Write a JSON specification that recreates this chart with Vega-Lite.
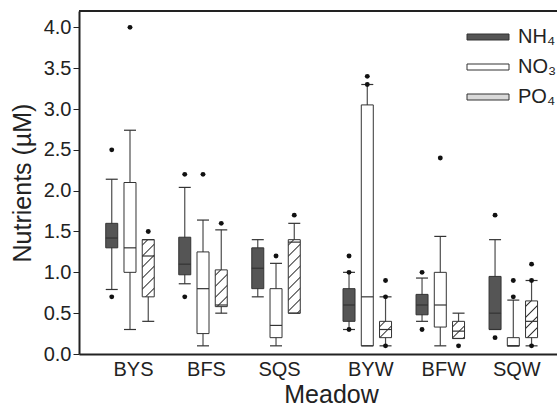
{
  "$schema": "https://vega.github.io/schema/vega-lite/v6.json",
  "width": 478,
  "height": 343,
  "autosize": {"type": "none"},
  "padding": {"left": 79, "top": 11, "right": 0, "bottom": 52},
  "background": "white",
  "config": {
    "view": {"stroke": null},
    "font": "Liberation Sans",
    "axis": {
      "grid": false,
      "domainColor": "#222222",
      "domainWidth": 2,
      "tickColor": "#222222",
      "labelColor": "#222222",
      "titleColor": "#222222",
      "labelFont": "Liberation Sans",
      "titleFont": "Liberation Sans",
      "titleFontWeight": "normal",
      "labelFontSize": 20,
      "titleFontSize": 25
    },
    "axisX": {"ticks": false, "tickSize": 0, "labelPadding": 5, "titlePadding": 3, "labelOffset": 3, "titleX": 252},
    "axisY": {"tickSize": 6, "labelPadding": 2, "titlePadding": 8}
  },
  "datasets": {
    "boxes": [
      {"Meadow": "BYS", "Nutrient": "NH4", "lower": 0.79, "q1": 1.3, "median": 1.42, "q3": 1.6, "upper": 2.14},
      {"Meadow": "BYS", "Nutrient": "NO3", "lower": 0.3, "q1": 1.0, "median": 1.3, "q3": 2.1, "upper": 2.74},
      {"Meadow": "BYS", "Nutrient": "PO4", "lower": 0.4, "q1": 0.7, "median": 1.2, "q3": 1.4, "upper": 1.4},
      {"Meadow": "BFS", "Nutrient": "NH4", "lower": 0.86, "q1": 0.97, "median": 1.1, "q3": 1.43, "upper": 2.04},
      {"Meadow": "BFS", "Nutrient": "NO3", "lower": 0.1, "q1": 0.25, "median": 0.8, "q3": 1.25, "upper": 1.64},
      {"Meadow": "BFS", "Nutrient": "PO4", "lower": 0.5, "q1": 0.58, "median": 0.6, "q3": 1.03, "upper": 1.52},
      {"Meadow": "SQS", "Nutrient": "NH4", "lower": 0.7, "q1": 0.8, "median": 1.05, "q3": 1.3, "upper": 1.4},
      {"Meadow": "SQS", "Nutrient": "NO3", "lower": 0.1, "q1": 0.2, "median": 0.35, "q3": 0.8, "upper": 1.11},
      {"Meadow": "SQS", "Nutrient": "PO4", "lower": 0.5, "q1": 0.5, "median": 1.37, "q3": 1.4, "upper": 1.6},
      {"Meadow": "BYW", "Nutrient": "NH4", "lower": 0.3, "q1": 0.4, "median": 0.6, "q3": 0.8, "upper": 1.0},
      {"Meadow": "BYW", "Nutrient": "NO3", "lower": 0.1, "q1": 0.1, "median": 0.7, "q3": 3.05, "upper": 3.3},
      {"Meadow": "BYW", "Nutrient": "PO4", "lower": 0.1, "q1": 0.2, "median": 0.3, "q3": 0.4, "upper": 0.7},
      {"Meadow": "BFW", "Nutrient": "NH4", "lower": 0.4, "q1": 0.48, "median": 0.6, "q3": 0.73, "upper": 0.93},
      {"Meadow": "BFW", "Nutrient": "NO3", "lower": 0.1, "q1": 0.33, "median": 0.6, "q3": 1.0, "upper": 1.44},
      {"Meadow": "BFW", "Nutrient": "PO4", "lower": 0.19, "q1": 0.19, "median": 0.28, "q3": 0.4, "upper": 0.5},
      {"Meadow": "SQW", "Nutrient": "NH4", "lower": 0.3, "q1": 0.3, "median": 0.5, "q3": 0.95, "upper": 1.4},
      {"Meadow": "SQW", "Nutrient": "NO3", "lower": 0.1, "q1": 0.1, "median": 0.1, "q3": 0.2, "upper": 0.66},
      {"Meadow": "SQW", "Nutrient": "PO4", "lower": 0.1, "q1": 0.2, "median": 0.4, "q3": 0.65, "upper": 0.9}
    ],
    "outliers": [
      {"Meadow": "BYS", "Nutrient": "NH4", "value": 2.5},
      {"Meadow": "BYS", "Nutrient": "NH4", "value": 0.7},
      {"Meadow": "BYS", "Nutrient": "NO3", "value": 4.0},
      {"Meadow": "BYS", "Nutrient": "PO4", "value": 1.5},
      {"Meadow": "BFS", "Nutrient": "NH4", "value": 2.2},
      {"Meadow": "BFS", "Nutrient": "NH4", "value": 0.7},
      {"Meadow": "BFS", "Nutrient": "NO3", "value": 2.2},
      {"Meadow": "BFS", "Nutrient": "PO4", "value": 1.6},
      {"Meadow": "SQS", "Nutrient": "NO3", "value": 1.2},
      {"Meadow": "SQS", "Nutrient": "PO4", "value": 1.7},
      {"Meadow": "BYW", "Nutrient": "NH4", "value": 1.2},
      {"Meadow": "BYW", "Nutrient": "NH4", "value": 1.0},
      {"Meadow": "BYW", "Nutrient": "NH4", "value": 0.3},
      {"Meadow": "BYW", "Nutrient": "NO3", "value": 3.4},
      {"Meadow": "BYW", "Nutrient": "NO3", "value": 3.3},
      {"Meadow": "BYW", "Nutrient": "PO4", "value": 0.9},
      {"Meadow": "BYW", "Nutrient": "PO4", "value": 0.7},
      {"Meadow": "BYW", "Nutrient": "PO4", "value": 0.1},
      {"Meadow": "BFW", "Nutrient": "NH4", "value": 1.0},
      {"Meadow": "BFW", "Nutrient": "NH4", "value": 0.3},
      {"Meadow": "BFW", "Nutrient": "NO3", "value": 2.4},
      {"Meadow": "BFW", "Nutrient": "PO4", "value": 0.1},
      {"Meadow": "SQW", "Nutrient": "NH4", "value": 1.7},
      {"Meadow": "SQW", "Nutrient": "NH4", "value": 0.2},
      {"Meadow": "SQW", "Nutrient": "NO3", "value": 0.9},
      {"Meadow": "SQW", "Nutrient": "NO3", "value": 0.7},
      {"Meadow": "SQW", "Nutrient": "PO4", "value": 1.1},
      {"Meadow": "SQW", "Nutrient": "PO4", "value": 0.9},
      {"Meadow": "SQW", "Nutrient": "PO4", "value": 0.1}
    ]
  },
  "data": {"name": "boxes"},
  "transform": [
    {"calculate": "indexof(['BYS','BFS','SQS','BYW','BFW','SQW'], datum.Meadow) + (indexof(['BYW','BFW','SQW'], datum.Meadow) >= 0 ? 0.25 : 0) + 0.25 * (indexof(['NH4','NO3','PO4'], datum.Nutrient) - 1)", "as": "pos"}
  ],
  "layer": [
    {
      "mark": {"type": "rule", "color": "#4d4d4d", "strokeWidth": 1.2},
      "encoding": {
        "x": {"field": "pos", "type": "quantitative", "title": "Meadow", "scale": {"domain": [-0.63, 5.78], "nice": false, "zero": false}, "axis": {"values": [0, 1, 2, 3.25, 4.25, 5.25], "labelExpr": "['BYS','BFS','SQS','BYW','BFW','SQW'][indexof([0,1,2,3.25,4.25,5.25], datum.value)]"}},
        "y": {"field": "lower", "type": "quantitative", "title": "Nutrients (µM)", "scale": {"domain": [0, 4.2], "nice": false}, "axis": {"values": [0, 0.5, 1, 1.5, 2, 2.5, 3, 3.5, 4], "format": ".1f"}},
        "y2": {"field": "upper"}
      }
    },
    {
      "transform": [{"filter": "datum.Nutrient !== 'PO4'"}],
      "mark": {"type": "bar", "width": 12, "stroke": "#333333", "strokeWidth": 1},
      "encoding": {
        "x": {"field": "pos", "type": "quantitative", "title": "Meadow"},
        "y": {"field": "q1", "type": "quantitative", "title": "Nutrients (µM)"},
        "y2": {"field": "q3"},
        "fill": {
          "field": "Nutrient", "type": "nominal",
          "scale": {"domain": ["NH4", "NO3", "PO4"], "range": ["#555555", "#ffffff", "#d9d9d9"]},
          "legend": {
            "title": null, "orient": "none", "legendX": 399, "legendY": 16, "padding": 0,
            "symbolType": "M-4,-0.5714H4V0.5714H-4Z", "symbolSize": 110.25,
            "symbolStrokeColor": "#333333", "symbolStrokeWidth": 1, "symbolOpacity": 1,
            "labelFontSize": 20, "labelFont": "Liberation Sans", "labelColor": "#222222",
            "labelOffset": 20, "rowPadding": 10,
            "labelExpr": "{'NH4': 'NH₄', 'NO3': 'NO₃', 'PO4': 'PO₄'}[datum.label]",
            "encode": {"symbols": {"update": {
              "stroke": {"value": "#333333"},
              "strokeWidth": {"value": 1}
            }}}
          }
        }
      }
    },
    {
      "transform": [{"filter": "datum.Nutrient === 'PO4' && datum.Meadow === 'BYS'"}],
      "mark": {"type": "bar", "width": 12, "stroke": "#333333", "strokeWidth": 1,
        "fill": {"gradient": "linear", "x1": 0, "y1": 0, "x2": 0.2432, "y2": 1.1589, "stops": [
          {"offset": 0.0593, "color": "#ffffff"}, {"offset": 0.0795, "color": "#333333"}, {"offset": 0.0997, "color": "#ffffff"},
          {"offset": 0.2183, "color": "#ffffff"}, {"offset": 0.2385, "color": "#333333"}, {"offset": 0.2587, "color": "#ffffff"},
          {"offset": 0.3774, "color": "#ffffff"}, {"offset": 0.3976, "color": "#333333"}, {"offset": 0.4178, "color": "#ffffff"},
          {"offset": 0.5364, "color": "#ffffff"}, {"offset": 0.5566, "color": "#333333"}, {"offset": 0.5768, "color": "#ffffff"},
          {"offset": 0.6954, "color": "#ffffff"}, {"offset": 0.7156, "color": "#333333"}, {"offset": 0.7358, "color": "#ffffff"},
          {"offset": 0.8545, "color": "#ffffff"}, {"offset": 0.8747, "color": "#333333"}, {"offset": 0.8949, "color": "#ffffff"}
        ]}},
      "encoding": {
        "x": {"field": "pos", "type": "quantitative", "title": "Meadow"},
        "y": {"field": "q1", "type": "quantitative", "title": "Nutrients (µM)"},
        "y2": {"field": "q3"}
      }
    },
    {
      "transform": [{"filter": "datum.Nutrient === 'PO4' && (datum.Meadow === 'BFS' || datum.Meadow === 'SQW')"}],
      "mark": {"type": "bar", "width": 12, "stroke": "#333333", "strokeWidth": 1,
        "fill": {"gradient": "linear", "x1": 0, "y1": 0, "x2": 0.3914, "y2": 1.1987, "stops": [
          {"offset": 0.0841, "color": "#ffffff"}, {"offset": 0.1128, "color": "#333333"}, {"offset": 0.1415, "color": "#ffffff"},
          {"offset": 0.3098, "color": "#ffffff"}, {"offset": 0.3385, "color": "#333333"}, {"offset": 0.3672, "color": "#ffffff"},
          {"offset": 0.5354, "color": "#ffffff"}, {"offset": 0.5641, "color": "#333333"}, {"offset": 0.5928, "color": "#ffffff"},
          {"offset": 0.7610, "color": "#ffffff"}, {"offset": 0.7897, "color": "#333333"}, {"offset": 0.8184, "color": "#ffffff"}
        ]}},
      "encoding": {
        "x": {"field": "pos", "type": "quantitative", "title": "Meadow"},
        "y": {"field": "q1", "type": "quantitative", "title": "Nutrients (µM)"},
        "y2": {"field": "q3"}
      }
    },
    {
      "transform": [{"filter": "datum.Nutrient === 'PO4' && datum.Meadow === 'SQS'"}],
      "mark": {"type": "bar", "width": 12, "stroke": "#333333", "strokeWidth": 1,
        "fill": {"gradient": "linear", "x1": 0, "y1": 0, "x2": 0.1850, "y2": 1.1331, "stops": [
          {"offset": 0.0479, "color": "#ffffff"}, {"offset": 0.0643, "color": "#333333"}, {"offset": 0.0807, "color": "#ffffff"},
          {"offset": 0.1766, "color": "#ffffff"}, {"offset": 0.1930, "color": "#333333"}, {"offset": 0.2094, "color": "#ffffff"},
          {"offset": 0.3052, "color": "#ffffff"}, {"offset": 0.3216, "color": "#333333"}, {"offset": 0.3380, "color": "#ffffff"},
          {"offset": 0.4339, "color": "#ffffff"}, {"offset": 0.4503, "color": "#333333"}, {"offset": 0.4667, "color": "#ffffff"},
          {"offset": 0.5625, "color": "#ffffff"}, {"offset": 0.5789, "color": "#333333"}, {"offset": 0.5953, "color": "#ffffff"},
          {"offset": 0.6912, "color": "#ffffff"}, {"offset": 0.7076, "color": "#333333"}, {"offset": 0.7240, "color": "#ffffff"},
          {"offset": 0.8199, "color": "#ffffff"}, {"offset": 0.8363, "color": "#333333"}, {"offset": 0.8527, "color": "#ffffff"},
          {"offset": 0.9485, "color": "#ffffff"}, {"offset": 0.9649, "color": "#333333"}, {"offset": 0.9813, "color": "#ffffff"}
        ]}},
      "encoding": {
        "x": {"field": "pos", "type": "quantitative", "title": "Meadow"},
        "y": {"field": "q1", "type": "quantitative", "title": "Nutrients (µM)"},
        "y2": {"field": "q3"}
      }
    },
    {
      "transform": [{"filter": "datum.Nutrient === 'PO4' && datum.Meadow === 'BYW'"}],
      "mark": {"type": "bar", "width": 12, "stroke": "#333333", "strokeWidth": 1,
        "fill": {"gradient": "linear", "x1": 0, "y1": 0, "x2": 0.8278, "y2": 1.1264, "stops": [
          {"offset": 0.1447, "color": "#ffffff"}, {"offset": 0.1941, "color": "#333333"}, {"offset": 0.2435, "color": "#ffffff"},
          {"offset": 0.5330, "color": "#ffffff"}, {"offset": 0.5824, "color": "#333333"}, {"offset": 0.6318, "color": "#ffffff"},
          {"offset": 0.9213, "color": "#ffffff"}, {"offset": 0.9707, "color": "#333333"}, {"offset": 1.0, "color": "#ffffff"}
        ]}},
      "encoding": {
        "x": {"field": "pos", "type": "quantitative", "title": "Meadow"},
        "y": {"field": "q1", "type": "quantitative", "title": "Nutrients (µM)"},
        "y2": {"field": "q3"}
      }
    },
    {
      "transform": [{"filter": "datum.Nutrient === 'PO4' && datum.Meadow === 'BFW'"}],
      "mark": {"type": "bar", "width": 12, "stroke": "#333333", "strokeWidth": 1,
        "fill": {"gradient": "linear", "x1": 0, "y1": 0, "x2": 0.7985, "y2": 1.1411, "stops": [
          {"offset": 0.1407, "color": "#ffffff"}, {"offset": 0.1887, "color": "#333333"}, {"offset": 0.2367, "color": "#ffffff"},
          {"offset": 0.5180, "color": "#ffffff"}, {"offset": 0.5660, "color": "#333333"}, {"offset": 0.6140, "color": "#ffffff"},
          {"offset": 0.8954, "color": "#ffffff"}, {"offset": 0.9434, "color": "#333333"}, {"offset": 0.9914, "color": "#ffffff"}
        ]}},
      "encoding": {
        "x": {"field": "pos", "type": "quantitative", "title": "Meadow"},
        "y": {"field": "q1", "type": "quantitative", "title": "Nutrients (µM)"},
        "y2": {"field": "q3"}
      }
    },
    {
      "mark": {"type": "tick", "orient": "horizontal", "size": 12, "thickness": 1.2, "color": "#333333", "opacity": 1},
      "encoding": {
        "x": {"field": "pos", "type": "quantitative", "title": "Meadow"},
        "y": {"field": "median", "type": "quantitative", "title": "Nutrients (µM)"}
      }
    },
    {
      "mark": {"type": "tick", "orient": "horizontal", "size": 12, "thickness": 1.2, "color": "#333333", "opacity": 1},
      "encoding": {
        "x": {"field": "pos", "type": "quantitative", "title": "Meadow"},
        "y": {"field": "upper", "type": "quantitative", "title": "Nutrients (µM)"}
      }
    },
    {
      "mark": {"type": "tick", "orient": "horizontal", "size": 12, "thickness": 1.2, "color": "#333333", "opacity": 1},
      "encoding": {
        "x": {"field": "pos", "type": "quantitative", "title": "Meadow"},
        "y": {"field": "lower", "type": "quantitative", "title": "Nutrients (µM)"}
      }
    },
    {
      "data": {"name": "outliers"},
      "transform": [
        {"calculate": "indexof(['BYS','BFS','SQS','BYW','BFW','SQW'], datum.Meadow) + (indexof(['BYW','BFW','SQW'], datum.Meadow) >= 0 ? 0.25 : 0) + 0.25 * (indexof(['NH4','NO3','PO4'], datum.Nutrient) - 1)", "as": "pos"}
      ],
      "mark": {"type": "point", "filled": true, "size": 24, "color": "#111111", "opacity": 1},
      "encoding": {
        "x": {"field": "pos", "type": "quantitative", "title": "Meadow"},
        "y": {"field": "value", "type": "quantitative", "title": "Nutrients (µM)"}
      }
    },
    {
      "data": {"values": [{}]},
      "mark": {"type": "rule", "color": "#222222", "strokeWidth": 2},
      "encoding": {
        "y": {"datum": 4.2, "type": "quantitative"}
      }
    }
  ]
}
